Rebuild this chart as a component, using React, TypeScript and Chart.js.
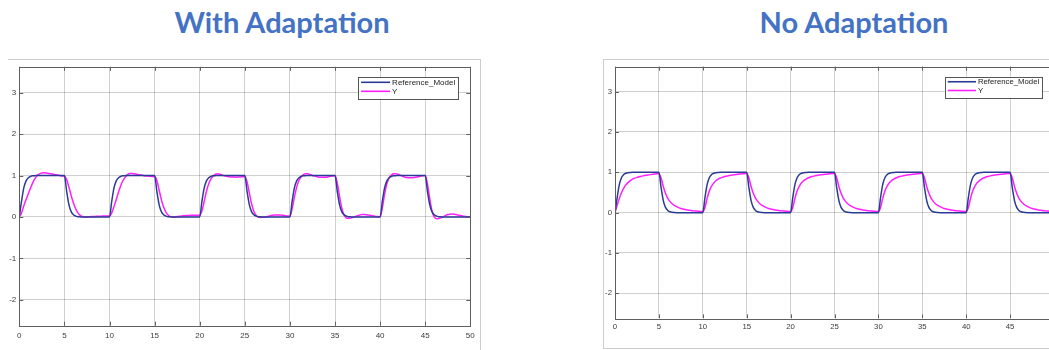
import React, { useEffect, useRef } from "react";
import { Chart, registerables } from "chart.js";

Chart.register(...registerables);

// ---------- data ----------
const SAMPLE_STEP = 0.25; // seconds between samples, t = 0 .. 50
const X_TICKS = [0, 5, 10, 15, 20, 25, 30, 35, 40, 45, 50];
const Y_TICKS = [-2, -1, 0, 1, 2, 3];
const Y_MIN = -2.62;
const Y_MAX = 3.62;
const SERIES_LABELS = ["Reference_Model", "Y"];
const PANEL_TITLES = ["With Adaptation", "No Adaptation"];

// one row = 5 s (20 samples); last single value is t = 50
const REFERENCE_MODEL = [
  0, 0.38, 0.7, 0.87, 0.945, 0.978, 0.992, 0.997, 1, 1, 1, 1, 1, 1, 1, 1, 1, 1, 1, 1,
  1, 0.62, 0.3, 0.13, 0.055, 0.022, 0.008, 0.003, 0, 0, 0, 0, 0, 0, 0, 0, 0, 0, 0, 0,
  0, 0.38, 0.7, 0.87, 0.945, 0.978, 0.992, 0.997, 1, 1, 1, 1, 1, 1, 1, 1, 1, 1, 1, 1,
  1, 0.62, 0.3, 0.13, 0.055, 0.022, 0.008, 0.003, 0, 0, 0, 0, 0, 0, 0, 0, 0, 0, 0, 0,
  0, 0.38, 0.7, 0.87, 0.945, 0.978, 0.992, 0.997, 1, 1, 1, 1, 1, 1, 1, 1, 1, 1, 1, 1,
  1, 0.62, 0.3, 0.13, 0.055, 0.022, 0.008, 0.003, 0, 0, 0, 0, 0, 0, 0, 0, 0, 0, 0, 0,
  0, 0.38, 0.7, 0.87, 0.945, 0.978, 0.992, 0.997, 1, 1, 1, 1, 1, 1, 1, 1, 1, 1, 1, 1,
  1, 0.62, 0.3, 0.13, 0.055, 0.022, 0.008, 0.003, 0, 0, 0, 0, 0, 0, 0, 0, 0, 0, 0, 0,
  0, 0.38, 0.7, 0.87, 0.945, 0.978, 0.992, 0.997, 1, 1, 1, 1, 1, 1, 1, 1, 1, 1, 1, 1,
  1, 0.62, 0.3, 0.13, 0.055, 0.022, 0.008, 0.003, 0, 0, 0, 0, 0, 0, 0, 0, 0, 0, 0, 0,
  0,
];

const Y_WITH_ADAPTATION = [
  0, 0.1, 0.27, 0.42, 0.56, 0.7, 0.83, 0.93, 1.0, 1.04, 1.06, 1.065, 1.06, 1.05, 1.04, 1.03, 1.02, 1.01, 1.0, 0.99,
  0.99, 0.9, 0.72, 0.52, 0.34, 0.2, 0.1, 0.04, 0.01, 0.0, 0.0, 0.005, 0.01, 0.012, 0.015, 0.018, 0.02, 0.022, 0.025, 0.025,
  0.025, 0.1, 0.25, 0.42, 0.6, 0.76, 0.88, 0.96, 1.02, 1.05, 1.05, 1.04, 1.03, 1.02, 1.01, 1.0, 0.99, 0.985, 0.98, 0.978,
  0.975, 0.88, 0.65, 0.42, 0.24, 0.12, 0.05, 0.01, 0.0, 0.0, 0.01, 0.018, 0.025, 0.03, 0.035, 0.038, 0.04, 0.04, 0.04, 0.04,
  0.04, 0.15, 0.38, 0.62, 0.8, 0.92, 0.99, 1.03, 1.04, 1.03, 1.01, 0.995, 0.98, 0.97, 0.965, 0.962, 0.96, 0.962, 0.965, 0.97,
  0.975, 0.85, 0.58, 0.32, 0.14, 0.04, 0.0, -0.01, -0.005, 0.0, 0.01, 0.025, 0.04, 0.048, 0.05, 0.05, 0.045, 0.04, 0.03, 0.025,
  0.02, 0.2, 0.48, 0.72, 0.88, 0.97, 1.02, 1.04, 1.04, 1.025, 1.0, 0.985, 0.97, 0.96, 0.955, 0.955, 0.96, 0.97, 0.98, 0.99,
  1.0, 0.82, 0.5, 0.22, 0.05, -0.02, -0.03, -0.025, -0.01, 0.01, 0.03, 0.045, 0.06, 0.06, 0.055, 0.045, 0.035, 0.025, 0.015, 0.01,
  0.005, 0.22, 0.55, 0.8, 0.94, 1.01, 1.04, 1.045, 1.03, 1.005, 0.98, 0.96, 0.95, 0.945, 0.945, 0.95, 0.96, 0.972, 0.985, 0.995,
  1.0, 0.8, 0.45, 0.15, 0.0, -0.04, -0.035, -0.02, 0.01, 0.035, 0.06, 0.068, 0.07, 0.065, 0.055, 0.042, 0.03, 0.02, 0.01, 0.005,
  0.0,
];

const Y_NO_ADAPTATION = [
  0, 0.18, 0.36, 0.5, 0.61, 0.69, 0.75, 0.795, 0.83, 0.855, 0.875, 0.89, 0.905, 0.915, 0.925, 0.935, 0.943, 0.95, 0.957, 0.962,
  0.966, 0.86, 0.65, 0.48, 0.36, 0.28, 0.22, 0.18, 0.15, 0.125, 0.105, 0.09, 0.078, 0.067, 0.058, 0.05, 0.044, 0.038, 0.033, 0.029,
  0.026, 0.13, 0.36, 0.54, 0.655, 0.735, 0.79, 0.83, 0.858, 0.88, 0.895, 0.91, 0.92, 0.93, 0.938, 0.945, 0.952, 0.958, 0.963, 0.967,
  0.97, 0.86, 0.65, 0.48, 0.36, 0.28, 0.22, 0.18, 0.15, 0.125, 0.105, 0.09, 0.078, 0.067, 0.058, 0.05, 0.044, 0.038, 0.033, 0.029,
  0.026, 0.13, 0.36, 0.545, 0.66, 0.74, 0.795, 0.833, 0.86, 0.882, 0.898, 0.912, 0.922, 0.932, 0.94, 0.947, 0.953, 0.959, 0.964, 0.968,
  0.971, 0.86, 0.65, 0.48, 0.36, 0.28, 0.22, 0.18, 0.15, 0.125, 0.105, 0.09, 0.078, 0.067, 0.058, 0.05, 0.044, 0.038, 0.033, 0.029,
  0.026, 0.13, 0.36, 0.545, 0.66, 0.74, 0.795, 0.833, 0.86, 0.882, 0.898, 0.912, 0.922, 0.932, 0.94, 0.947, 0.953, 0.959, 0.964, 0.968,
  0.971, 0.86, 0.65, 0.48, 0.36, 0.28, 0.22, 0.18, 0.15, 0.125, 0.105, 0.09, 0.078, 0.067, 0.058, 0.05, 0.044, 0.038, 0.033, 0.029,
  0.026, 0.13, 0.36, 0.545, 0.66, 0.74, 0.795, 0.833, 0.86, 0.882, 0.898, 0.912, 0.922, 0.932, 0.94, 0.947, 0.953, 0.959, 0.964, 0.968,
  0.971, 0.86, 0.65, 0.48, 0.36, 0.28, 0.22, 0.18, 0.15, 0.125, 0.105, 0.09, 0.078, 0.067, 0.058, 0.05, 0.044, 0.038, 0.033, 0.029,
  0.026,
];

// ---------- styles ----------
const REF_COLOR = "#2a3b94";
const Y_COLOR = "#ff1fff";
const AXIS_COLOR = "#5f5f5f";
const GRID_COLOR = "rgba(0,0,0,0.19)";
const TICK_TEXT_COLOR = "#3a3a3a";
const FRAME_COLOR = "#cdcdcd";
const TITLE_COLOR = "#4472C4";
const FONT = "'Liberation Sans', Arial, Helvetica, sans-serif";

const toPoints = (vals: number[]) => vals.map((v, i) => ({ x: i * SAMPLE_STEP, y: v }));

const matlabFrame = {
  id: "matlabFrame",
  afterDraw(chart: any, _args: any, opts: any) {
    const { ctx, chartArea: a, scales } = chart;
    const s = opts.scale || 1;
    ctx.save();
    // axes box
    ctx.strokeStyle = AXIS_COLOR;
    ctx.lineWidth = 1;
    ctx.strokeRect(Math.round(a.left) + 0.5, Math.round(a.top) + 0.5, Math.round(a.right - a.left), Math.round(a.bottom - a.top));
    // inward ticks
    const tl = 4 * s;
    ctx.beginPath();
    X_TICKS.forEach((v) => {
      const x = Math.round(scales.x.getPixelForValue(v)) + 0.5;
      ctx.moveTo(x, a.top);
      ctx.lineTo(x, a.top + tl);
      ctx.moveTo(x, a.bottom);
      ctx.lineTo(x, a.bottom - tl);
    });
    Y_TICKS.forEach((v) => {
      const y = Math.round(scales.y.getPixelForValue(v)) + 0.5;
      ctx.moveTo(a.left, y);
      ctx.lineTo(a.left + tl, y);
      ctx.moveTo(a.right, y);
      ctx.lineTo(a.right - tl, y);
    });
    ctx.stroke();
    // legend box
    const w = 99.5 * s;
    const h = 21.7 * s;
    const left = a.right - 12.7 * s - w;
    const top = a.top + 10.3 * s;
    ctx.fillStyle = "#ffffff";
    ctx.fillRect(left, top, w, h);
    ctx.strokeStyle = "#555555";
    ctx.lineWidth = 1;
    ctx.strokeRect(Math.round(left) + 0.5, Math.round(top) + 0.5, Math.round(w), Math.round(h));
    ctx.font = `${8 * s}px ${FONT}`;
    ctx.textBaseline = "middle";
    ctx.textAlign = "left";
    chart.data.datasets.forEach((ds: any, i: number) => {
      const y = top + (5.2 + 9 * i) * s;
      ctx.strokeStyle = ds.borderColor;
      ctx.lineWidth = 1.6;
      ctx.beginPath();
      ctx.moveTo(left + 3 * s, y);
      ctx.lineTo(left + 32 * s, y);
      ctx.stroke();
      ctx.fillStyle = "#222222";
      ctx.fillText(ds.label, left + 34 * s, y + 0.5);
    });
    ctx.restore();
  },
};

type PanelProps = {
  values: number[];
  left: number;
  top: number;
  width: number;
  height: number;
  padTop: number;
  padRight: number;
  yAxisWidth: number;
  xAxisHeight: number;
  scale: number;
  xLabelPad: number;
};

function Panel(p: PanelProps) {
  const ref = useRef<HTMLCanvasElement | null>(null);
  useEffect(() => {
    if (!ref.current) return;
    const fontSize = 8 * p.scale;
    const chart = new Chart(ref.current, {
      type: "line",
      data: {
        datasets: [
          {
            label: SERIES_LABELS[0],
            data: toPoints(REFERENCE_MODEL),
            borderColor: REF_COLOR,
            borderWidth: 1.5,
            pointRadius: 0,
            cubicInterpolationMode: "monotone",
          },
          {
            label: SERIES_LABELS[1],
            data: toPoints(p.values),
            borderColor: Y_COLOR,
            borderWidth: 1.5,
            pointRadius: 0,
            cubicInterpolationMode: "monotone",
          },
        ],
      },
      options: {
        responsive: false,
        animation: false,
        events: [],
        layout: { padding: { top: p.padTop, right: p.padRight, left: 0, bottom: 0 } },
        plugins: {
          legend: { display: false },
          tooltip: { enabled: false },
          title: { display: false },
          matlabFrame: { scale: p.scale },
        } as any,
        scales: {
          x: {
            type: "linear",
            min: 0,
            max: 50,
            afterBuildTicks: (axis: any) => {
              axis.ticks = X_TICKS.map((v) => ({ value: v }));
            },
            afterFit: (axis: any) => {
              axis.height = p.xAxisHeight;
            },
            grid: { color: GRID_COLOR, drawTicks: false, lineWidth: 1 },
            border: { display: false },
            ticks: {
              padding: p.xLabelPad,
              maxRotation: 0,
              autoSkip: false,
              color: TICK_TEXT_COLOR,
              font: { family: FONT, size: fontSize },
            },
          },
          y: {
            type: "linear",
            min: Y_MIN,
            max: Y_MAX,
            afterBuildTicks: (axis: any) => {
              axis.ticks = Y_TICKS.map((v) => ({ value: v }));
            },
            afterFit: (axis: any) => {
              axis.width = p.yAxisWidth;
            },
            grid: { color: GRID_COLOR, drawTicks: false, lineWidth: 1 },
            border: { display: false },
            ticks: {
              padding: 3,
              autoSkip: false,
              color: TICK_TEXT_COLOR,
              font: { family: FONT, size: fontSize },
            },
          },
        },
      },
      plugins: [matlabFrame],
    });
    return () => chart.destroy();
  }, []);
  return (
    <canvas
      ref={ref}
      width={p.width}
      height={p.height}
      style={{ position: "absolute", left: p.left, top: p.top, width: p.width, height: p.height }}
    />
  );
}

const titleStyle = (cx: number): React.CSSProperties => ({
  position: "absolute",
  left: cx,
  top: 6,
  transform: "translateX(-50%)",
  whiteSpace: "nowrap",
  fontFamily: "Lato, 'Open Sans', sans-serif",
  fontWeight: 700,
  fontSize: 29,
  lineHeight: "32px",
  color: TITLE_COLOR,
});

export default function App() {
  return (
    <div
      style={{
        position: "fixed",
        left: 0,
        top: 0,
        width: 1049,
        height: 350,
        overflow: "hidden",
        background: "#ffffff",
      }}
    >
      <div style={titleStyle(282)}>{PANEL_TITLES[0]}</div>
      <div style={titleStyle(854)}>{PANEL_TITLES[1]}</div>

      {/* figure frames */}
      <div
        style={{
          position: "absolute",
          left: 8,
          top: 59,
          width: 473,
          height: 300,
          borderTop: `1px solid ${FRAME_COLOR}`,
          borderRight: `1px solid ${FRAME_COLOR}`,
          boxSizing: "border-box",
        }}
      />
      <div
        style={{
          position: "absolute",
          left: 603,
          top: 59,
          width: 500,
          height: 290,
          borderTop: `1px solid ${FRAME_COLOR}`,
          borderLeft: `1px solid ${FRAME_COLOR}`,
          borderBottom: `1px solid ${FRAME_COLOR}`,
          boxSizing: "border-box",
        }}
      />

      <Panel
        values={Y_WITH_ADAPTATION}
        left={0}
        top={59}
        width={480}
        height={291}
        padTop={6.7}
        padRight={9.7}
        yAxisWidth={19.3}
        xAxisHeight={24.3}
        scale={1}
        xLabelPad={5}
      />
      <Panel
        values={Y_NO_ADAPTATION}
        left={590}
        top={59}
        width={475}
        height={289}
        padTop={7}
        padRight={11}
        yAxisWidth={25}
        xAxisHeight={29.7}
        scale={0.973}
        xLabelPad={4}
      />
    </div>
  );
}
